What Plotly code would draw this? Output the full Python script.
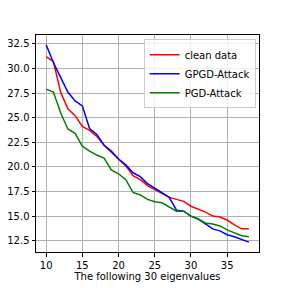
import plotly.graph_objects as go

x_vals = list(range(10, 39))
clean_data = [31.2, 30.7, 27.6, 25.9, 25.2, 24.1, 23.7, 23.1, 22.2, 21.5, 20.8,
              20.1, 19.1, 18.7, 18.1, 17.7, 17.25, 16.9, 16.7, 16.5, 16.0, 15.7,
              15.4, 15.0, 14.9, 14.6, 14.1, 13.7, 13.7]
gpgd_attack = [32.4, 30.6, 29.1, 27.6, 26.7, 26.2, 23.9, 23.3, 22.2, 21.6, 20.8,
               20.2, 19.4, 19.0, 18.3, 17.85, 17.4, 16.9, 15.6, 15.5, 15.0, 14.7,
               14.2, 13.7, 13.5, 13.1, 12.9, 12.6, 12.35]
pgd_attack = [27.9, 27.6, 25.5, 23.85, 23.4, 22.1, 21.6, 21.2, 20.9, 19.7, 19.3,
              18.7, 17.4, 17.15, 16.7, 16.45, 16.35, 15.9, 15.5, 15.5, 15.0, 14.7,
              14.3, 14.2, 14.0, 13.6, 13.3, 13.0, 12.9]
series_names = ["clean data", "GPGD-Attack", "PGD-Attack"]
series_colors = ["#ff0000", "#0000ff", "#008000"]
x_title = "The following 30 eigenvalues"

fig = go.Figure()
for name, ys, col in zip(series_names, [clean_data, gpgd_attack, pgd_attack], series_colors):
    fig.add_trace(go.Scatter(x=x_vals, y=ys, mode="lines", name=name,
                             line=dict(color=col, width=1.5)))

axis_common = dict(showline=True, linecolor="black", linewidth=1, mirror=True,
                   ticks="outside", ticklen=3.5, tickwidth=0.8, tickcolor="black",
                   showgrid=True, gridcolor="#b0b0b0", gridwidth=0.8, zeroline=False,
                   automargin=False,
                   tickfont=dict(family="DejaVu Sans", size=10, color="black"))

fig.update_layout(
    width=288, height=288,
    margin=dict(l=36, r=29, t=35, b=36),
    paper_bgcolor="white", plot_bgcolor="white",
    font=dict(family="DejaVu Sans", size=10, color="black"),
    xaxis=dict(range=[8.6, 39.4], tick0=10, dtick=5,
               title=dict(text=x_title, font=dict(size=10), standoff=2), **axis_common),
    yaxis=dict(range=[11.35, 33.4], tick0=12.5, dtick=2.5, tickformat=".1f", **axis_common),
    legend=dict(x=0.985, y=0.98, xanchor="right", yanchor="top",
                bgcolor="rgba(255,255,255,0.8)", bordercolor="#cccccc", borderwidth=1,
                font=dict(size=10), itemwidth=30, tracegroupgap=0),
    showlegend=True,
)

fig.write_html("out.html", config={"displayModeBar": False},
               post_script="document.body.style.margin='0';document.body.style.overflow='hidden';")
